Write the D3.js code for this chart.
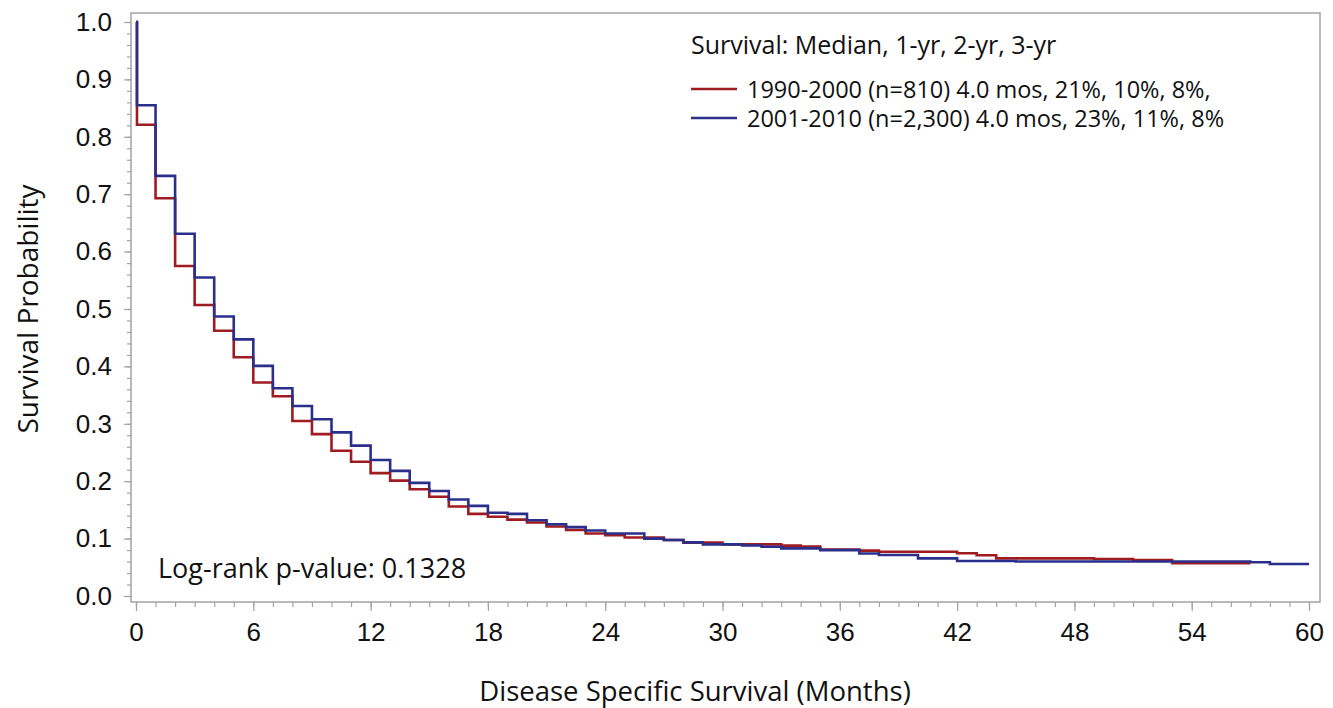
<!DOCTYPE html>
<html>
<head>
<meta charset="utf-8">
<script src="https://cdn.jsdelivr.net/npm/d3@7"></script>
<style>
  body { margin: 0; background: #fff; }
  svg { display: block; font-family: "Open Sans", "Noto Sans", sans-serif; }
</style>
</head>
<body>
<svg id="chart" width="1333" height="708"></svg>
<script>
// Kaplan-Meier estimates (time in months, survival)
const redTimes = [0, 0.05, 1, 2, 3, 4, 5, 6, 7, 8, 9, 10, 11, 12, 13, 14, 15, 16, 17, 18, 19, 20,
  21, 22, 23, 24, 25, 27, 28, 30, 33, 34, 35, 37, 38, 42, 43, 44, 49, 51, 53, 57];
const redSurv = [1.0, 0.821, 0.693, 0.575, 0.507, 0.462, 0.416, 0.372, 0.348, 0.305, 0.282, 0.253,
  0.234, 0.214, 0.201, 0.186, 0.173, 0.156, 0.143, 0.138, 0.133, 0.128, 0.121, 0.115, 0.109, 0.106,
  0.102, 0.0976, 0.093, 0.090, 0.0877, 0.086, 0.081, 0.079, 0.077, 0.0744, 0.0709, 0.0656, 0.0645,
  0.0627, 0.057, 0.057];

const blueTimes = [0, 0.05, 1, 2, 3, 4, 5, 6, 7, 8, 9, 10, 11, 12, 13, 14, 15, 16, 17, 18, 19, 20,
  21, 22, 23, 24, 26, 27, 28, 29, 31, 32, 33, 35, 37, 38, 40, 42, 45, 57, 58, 60];
const blueSurv = [1.0, 0.855, 0.732, 0.631, 0.555, 0.487, 0.447, 0.401, 0.362, 0.331, 0.308, 0.285,
  0.262, 0.237, 0.218, 0.197, 0.183, 0.168, 0.157, 0.145, 0.143, 0.132, 0.125, 0.120, 0.114, 0.109,
  0.100, 0.0976, 0.0935, 0.090, 0.088, 0.0859, 0.083, 0.080, 0.074, 0.0714, 0.0656, 0.061, 0.060,
  0.0587, 0.0557, 0.0557];

const seriesNames = ["1990-2000 (n=810) 4.0 mos, 21%, 10%, 8%,", "2001-2010 (n=2,300) 4.0 mos, 23%, 11%, 8%"];
const seriesColors = ["#9e1b1f", "#2b2f8c"];
const xTicks = [0, 6, 12, 18, 24, 30, 36, 42, 48, 54, 60];
const yTicks = [0, 0.1, 0.2, 0.3, 0.4, 0.5, 0.6, 0.7, 0.8, 0.9, 1.0];

const svg = d3.select("#chart");
const frame = { left: 131, right: 1320, top: 13, bottom: 602 };

const x = d3.scaleLinear().domain([0, 60]).range([136, 1309]);
const y = d3.scaleLinear().domain([0, 1]).range([596, 22]);
const AXIS = "#a3a3a3";

svg.append("rect")
  .attr("x", frame.left).attr("y", frame.top)
  .attr("width", frame.right - frame.left).attr("height", frame.bottom - frame.top)
  .attr("fill", "none").attr("stroke", AXIS).attr("stroke-width", 1.5);

// y axis: minor then major ticks
svg.append("g").attr("transform", `translate(${frame.left},0)`)
  .call(d3.axisLeft(y).tickValues(d3.range(0, 1.001, 0.02)).tickSize(4).tickFormat(""))
  .call(g => g.select(".domain").remove())
  .call(g => g.selectAll("line").attr("stroke", AXIS).attr("stroke-width", 1.2));
svg.append("g").attr("transform", `translate(${frame.left},0)`)
  .call(d3.axisLeft(y).tickValues(yTicks).tickSize(7).tickPadding(12).tickFormat(d3.format(".1f")))
  .call(g => g.select(".domain").remove())
  .call(g => g.selectAll("line").attr("stroke", AXIS).attr("stroke-width", 1.2))
  .call(g => g.selectAll("text").attr("fill", "#111").attr("font-size", 26).attr("font-family", "inherit"));

// x axis
svg.append("g").attr("transform", `translate(0,${frame.bottom})`)
  .call(d3.axisBottom(x).tickValues(d3.range(0, 61, 1)).tickSize(5).tickFormat(""))
  .call(g => g.select(".domain").remove())
  .call(g => g.selectAll("line").attr("stroke", AXIS).attr("stroke-width", 1.2));
svg.append("g").attr("transform", `translate(0,${frame.bottom})`)
  .call(d3.axisBottom(x).tickValues(xTicks).tickSize(9).tickPadding(12))
  .call(g => g.select(".domain").remove())
  .call(g => g.selectAll("line").attr("stroke", AXIS).attr("stroke-width", 1.2))
  .call(g => g.selectAll("text").attr("fill", "#111").attr("font-size", 26).attr("font-family", "inherit"));

// curves
const step = d3.line().x(d => x(d[0])).y(d => y(d[1])).curve(d3.curveStepAfter);
const curves = [d3.zip(redTimes, redSurv), d3.zip(blueTimes, blueSurv)];
curves.forEach((pts, i) => {
  svg.append("path").datum(pts)
    .attr("fill", "none").attr("stroke", seriesColors[i])
    .attr("stroke-width", 2.6).attr("d", step);
});

// axis titles
svg.append("text").attr("x", 695).attr("y", 701)
  .attr("text-anchor", "middle").attr("font-size", 27.5).attr("fill", "#111")
  .text("Disease Specific Survival (Months)");
svg.append("text").attr("transform", `translate(38,${y(0.5)}) rotate(-90)`)
  .attr("text-anchor", "middle").attr("font-size", 28).attr("fill", "#111")
  .text("Survival Probability");

// legend
svg.append("text").attr("x", 691).attr("y", 54)
  .attr("font-size", 25).attr("fill", "#111")
  .text("Survival: Median, 1-yr, 2-yr, 3-yr");
seriesNames.forEach((name, i) => {
  const ly = 89 + i * 29;
  svg.append("line").attr("x1", 691).attr("x2", 737).attr("y1", ly).attr("y2", ly)
    .attr("stroke", seriesColors[i]).attr("stroke-width", 2.6);
  svg.append("text").attr("x", 747).attr("y", ly + 8.5)
    .attr("font-size", 23.5).attr("fill", "#111").text(name);
});

svg.append("text").attr("x", 158).attr("y", 578)
  .attr("font-size", 27).attr("fill", "#111")
  .text("Log-rank p-value: 0.1328");
</script>
</body>
</html>
